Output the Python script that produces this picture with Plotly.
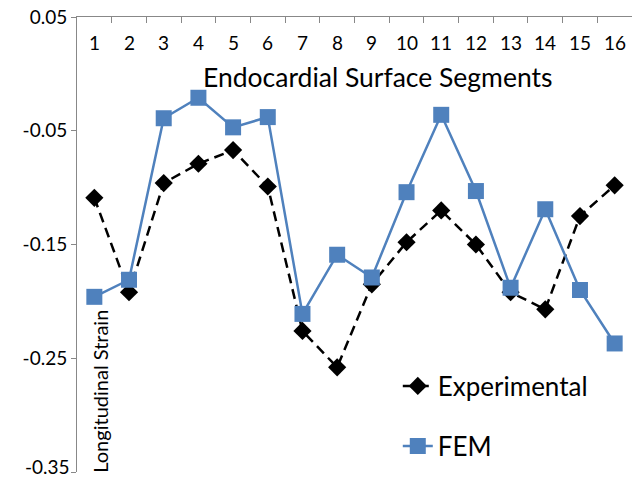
import plotly.graph_objects as go

segments = [str(i) for i in range(1, 17)]
experimental = [-0.109, -0.192, -0.096, -0.079, -0.067, -0.099, -0.226, -0.258,
                -0.185, -0.148, -0.120, -0.150, -0.192, -0.207, -0.125, -0.098]
fem = [-0.196, -0.181, -0.039, -0.021, -0.047, -0.038, -0.211, -0.159,
       -0.179, -0.104, -0.036, -0.103, -0.188, -0.119, -0.190, -0.237]
y_ticks = [0.05, -0.05, -0.15, -0.25, -0.35]
y_tick_text = ["0.05", "-0.05", "-0.15", "-0.25", "-0.35"]

FONT = "Lato"
BLUE = "#4F81BD"
AXIS = "#888888"

fig = go.Figure()
fig.add_trace(go.Scatter(
    x=segments, y=experimental, name="Experimental", mode="lines+markers",
    line=dict(color="black", width=2.5, dash="10px,6px"),
    marker=dict(symbol="diamond", size=14, color="black"),
    legend="legend", showlegend=True))
fig.add_trace(go.Scatter(
    x=segments, y=fem, name="FEM", mode="lines+markers",
    line=dict(color=BLUE, width=2.5),
    marker=dict(symbol="square", size=16, color=BLUE),
    legend="legend2", showlegend=True))

# category labels drawn inside the plot, under the top axis line
annotations = [
    dict(text=s, x=i, y=0.943, xref="x", yref="paper", showarrow=False,
         font=dict(size=19, family=FONT, color="black"),
         xanchor="center", yanchor="middle")
    for i, s in enumerate(segments)
]
# lowest y tick label, nudged up so it stays inside the page
annotations.append(
    dict(text=y_tick_text[-1], x=0, y=0, xref="paper", yref="paper",
         xanchor="right", yanchor="bottom", xshift=-5, yshift=-8,
         showarrow=False, font=dict(size=19, family=FONT, color="black")))
annotations += [
    dict(text="Endocardial Surface Segments", x=0.542, y=0.868, xref="paper", yref="paper",
         showarrow=False, font=dict(size=26.5, family=FONT, color="black"),
         xanchor="center", yanchor="middle"),
    dict(text="Longitudinal Strain", x=0.041, y=0.178, xref="paper", yref="paper",
         showarrow=False, textangle=-90, font=dict(size=20, family=FONT, color="black"),
         xanchor="center", yanchor="middle"),
]

fig.update_layout(
    width=636, height=480,
    margin=dict(l=77, r=4, t=17, b=8, autoexpand=False),
    paper_bgcolor="white", plot_bgcolor="white",
    font=dict(family=FONT, color="black"),
    showlegend=True,
    xaxis=dict(type="category", side="top", showgrid=False, zeroline=False,
               showline=True, linecolor=AXIS, linewidth=1, automargin=False,
               ticks="inside", ticklen=6, tickcolor=AXIS, tickson="boundaries",
               showticklabels=False, range=[-0.5, 15.5]),
    yaxis=dict(range=[-0.35, 0.05], tickvals=y_ticks,
               ticktext=y_tick_text[:-1] + [""],
               showgrid=False, zeroline=False, showline=True, automargin=False,
               linecolor=AXIS, linewidth=1, ticks="outside", ticklen=5,
               ticklabeloverflow="allow",
               tickcolor=AXIS, tickfont=dict(size=19, family=FONT, color="black")),
    legend=dict(x=0.578, y=0.189, xanchor="left", yanchor="middle",
                bgcolor="rgba(0,0,0,0)", font=dict(size=26, family=FONT, color="black")),
    legend2=dict(x=0.578, y=0.057, xanchor="left", yanchor="middle",
                 bgcolor="rgba(0,0,0,0)", font=dict(size=26, family=FONT, color="black")),
    annotations=annotations,
)

fig.write_html("out.html", config={"displayModeBar": False},
               post_script="document.body.style.margin='0px';")
